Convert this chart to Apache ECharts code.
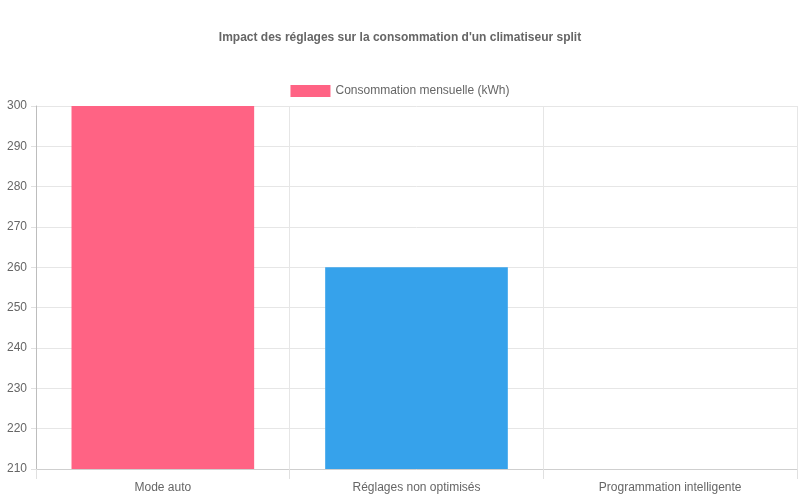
<!DOCTYPE html>
<html>
<head>
<meta charset="utf-8">
<script src="https://cdn.jsdelivr.net/npm/echarts@6/dist/echarts.min.js"></script>
<style>html,body{margin:0;padding:0;background:#fff}#c{width:800px;height:500px}</style>
</head>
<body>
<div id="c"></div>
<script>
const categories = ["Mode auto", "Réglages non optimisés", "Programmation intelligente"];
const values = [300, 260, 180];
const barColors = ["#ff6384", "#36a2eb", "#ffce56"];
const seriesName = "Consommation mensuelle (kWh)";
const titleText = "Impact des réglages sur la consommation d'un climatiseur split";

const chart = echarts.init(document.getElementById('c'));
const font = "'Liberation Sans', Arial, Helvetica, sans-serif";
chart.setOption({
  animation: false,
  textStyle: { fontFamily: font },
  title: {
    text: titleText, left: 'center', top: 27,
    textStyle: { fontSize: 12, fontWeight: 'bold', color: '#666', fontFamily: font }
  },
  legend: {
    top: 80, left: 'center', icon: 'rect', itemWidth: 40, itemHeight: 12, itemGap: 10,
    textStyle: { fontSize: 12, color: '#666', fontFamily: font },
    data: [seriesName]
  },
  grid: { left: 36, right: 3, top: 106, bottom: 31, containLabel: false },
  xAxis: {
    type: 'category', data: categories, boundaryGap: true,
    axisLine: { show: true, lineStyle: { color: '#cfcfcf' } },
    axisTick: { show: true, length: 10, lineStyle: { color: '#e0e0e0' } },
    axisLabel: { color: '#666', fontSize: 12, margin: 13, fontFamily: font },
    splitLine: { show: true, lineStyle: { color: '#e6e6e6' } }
  },
  yAxis: {
    type: 'value', min: 210, max: 300, interval: 10,
    axisLine: { show: true, lineStyle: { color: '#bdbdbd' } },
    axisTick: { show: true, length: 5, lineStyle: { color: '#e0e0e0' } },
    axisLabel: { color: '#666', fontSize: 12, margin: 9, fontFamily: font },
    splitLine: { show: true, lineStyle: { color: '#e6e6e6' } }
  },
  series: [{
    name: seriesName, type: 'bar', barWidth: '72%',
    itemStyle: { color: barColors[0] },
    data: values.map((v, i) => ({ value: v, itemStyle: { color: barColors[i] } })),
    clip: true
  }]
});
</script>
</body>
</html>
